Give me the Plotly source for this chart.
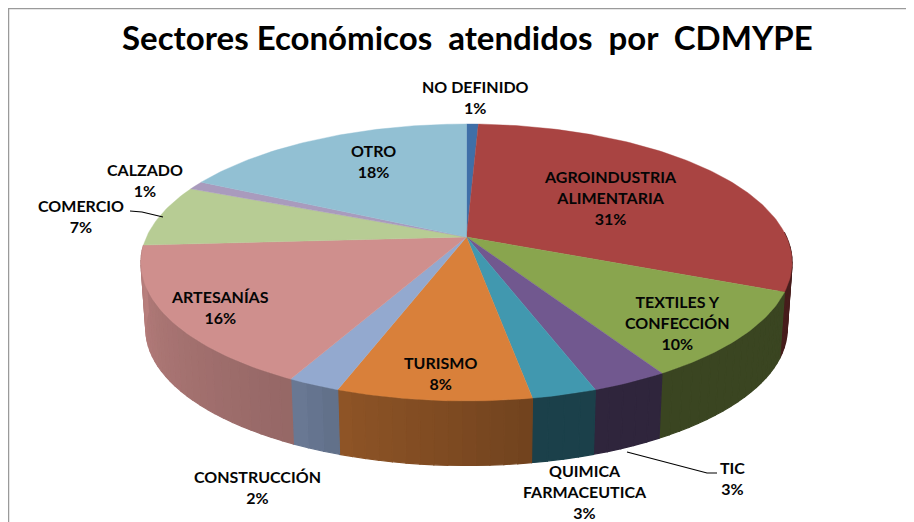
import math
import plotly.graph_objects as go

TITLE = "Sectores Económicos&nbsp; atendidos&nbsp; por&nbsp; CDMYPE"
categories = ["NO DEFINIDO", "AGROINDUSTRIA<br>ALIMENTARIA", "TEXTILES Y<br>CONFECCIÓN", "TIC",
              "QUIMICA<br>FARMACEUTICA", "TURISMO", "CONSTRUCCIÓN", "ARTESANÍAS",
              "COMERCIO", "CALZADO", "OTRO"]
values = [0.7, 30.55, 10.15, 3.2, 2.7, 8.1, 2.2, 16.45, 7.25, 1.0, 17.7]
colors = ["#3F6FA8", "#A94442", "#89A54E", "#71588F", "#4198AF", "#D9803A",
          "#93A9CF", "#CF8F8D", "#B7CC94", "#A99BBD", "#92C0D3"]
label_x = [475, 610, 677, 732, 585, 440, 257, 220, 81, 145, 373]
label_y = [96.5, 197, 322, 478, 491, 372.5, 486.5, 306.5, 215.5, 179.5, 160.5]

CX, CY, A, B, K = 466.5, 237, 320, 133.8, 0.184
DEPTH, SHRINK = 67, 0.985


def project(theta, r=1.0, lower=False):
    X = r * math.sin(theta)
    Y = -r * math.cos(theta)
    s = 1 / (1 - K * Y)
    f = SHRINK if lower else 1
    return CX + A * f * X * s, CY + (DEPTH if lower else 0) + B * f * Y * s


def shade(deg):
    stops = [(0, .42), (170, .42), (170.1, .52), (200, .66), (207, .72), (270, .90), (360, .9)]
    for (a, u), (b, v) in zip(stops, stops[1:]):
        if a <= deg <= b:
            return u + (v - u) * (deg - a) / (b - a)
    return .9


def darker(hexcol, f):
    r, g, b = (int(hexcol[i:i + 2], 16) for i in (1, 3, 5))
    return f"rgb({r * f:.0f},{g * f:.0f},{b * f:.0f})"


fig = go.Figure()
total = sum(values)
edges = [0.0]
for v in values:
    edges.append(edges[-1] + v / total * 2 * math.pi)

# side wall
for i, col in enumerate(colors):
    a0, a1 = max(edges[i], math.radians(88)), min(edges[i + 1], edges[8])
    if a1 <= a0:
        continue
    n = max(1, int(math.degrees(a1 - a0) / 2))
    for j in range(n):
        t0 = a0 + (a1 - a0) * j / n
        t1 = a0 + (a1 - a0) * (j + 1) / n
        pts = [project(t0), project(t1), project(t1, lower=True), project(t0, lower=True), project(t0)]
        c = darker(col, shade(math.degrees((t0 + t1) / 2)))
        fig.add_trace(go.Scatter(x=[p[0] for p in pts], y=[p[1] for p in pts], mode="lines",
                                 fill="toself", fillcolor=c, line=dict(color=c, width=1.2),
                                 hoverinfo="skip", showlegend=False))

# top face
for i, col in enumerate(colors):
    n = max(3, int(math.degrees(edges[i + 1] - edges[i])))
    pts = [(CX, CY)] + [project(edges[i] + (edges[i + 1] - edges[i]) * j / n) for j in range(n + 1)] + [(CX, CY)]
    fig.add_trace(go.Scatter(x=[p[0] for p in pts], y=[p[1] for p in pts], mode="lines",
                             fill="toself", fillcolor=col, line=dict(color=col, width=0.4),
                             hoverinfo="skip", showlegend=False))

# leader lines
fig.add_trace(go.Scatter(x=[130, 142, 163], y=[211, 212, 217], mode="lines",
                         line=dict(color="black", width=1.2), hoverinfo="skip", showlegend=False))
fig.add_trace(go.Scatter(x=[627, 707, 717], y=[452, 473, 473], mode="lines",
                         line=dict(color="black", width=1.2), hoverinfo="skip", showlegend=False))

annotations = [dict(x=467, y=37, text=f"<b>{TITLE}</b>", showarrow=False, xanchor="center", yanchor="middle",
                    font=dict(family="Lato", size=33, color="black"))]
for c, v, lx, ly in zip(categories, values, label_x, label_y):
    annotations.append(dict(x=lx, y=ly, text=f"<b>{c}<br>{round(v / total * 100)}%</b>", showarrow=False,
                            xanchor="center", yanchor="middle", align="center",
                            font=dict(family="Lato", size=16, color="#050505")))

W, H, ML, MT = 906, 514, 2, 2
PW, PH = W - ML, H - MT
fig.update_layout(
    width=W, height=H, autosize=False, margin=dict(l=ML, r=0, t=MT, b=0, pad=0),
    paper_bgcolor="white", plot_bgcolor="white", showlegend=False,
    xaxis=dict(range=[8 + ML, 914], visible=False, fixedrange=True),
    yaxis=dict(range=[522, 8 + MT], visible=False, fixedrange=True),
    annotations=annotations,
    shapes=[dict(type="line", xref="paper", yref="paper", x0=-ML / PW, x1=1, y0=1 + 1.5 / PH, y1=1 + 1.5 / PH,
                 line=dict(color="#9a9a9a", width=1.5)),
            dict(type="line", xref="paper", yref="paper", x0=-1.5 / PW, x1=-1.5 / PW, y0=0, y1=1 + ML / PH,
                 line=dict(color="#9a9a9a", width=1.5))],
)
fig.write_html("out.html", config={"displayModeBar": False})
